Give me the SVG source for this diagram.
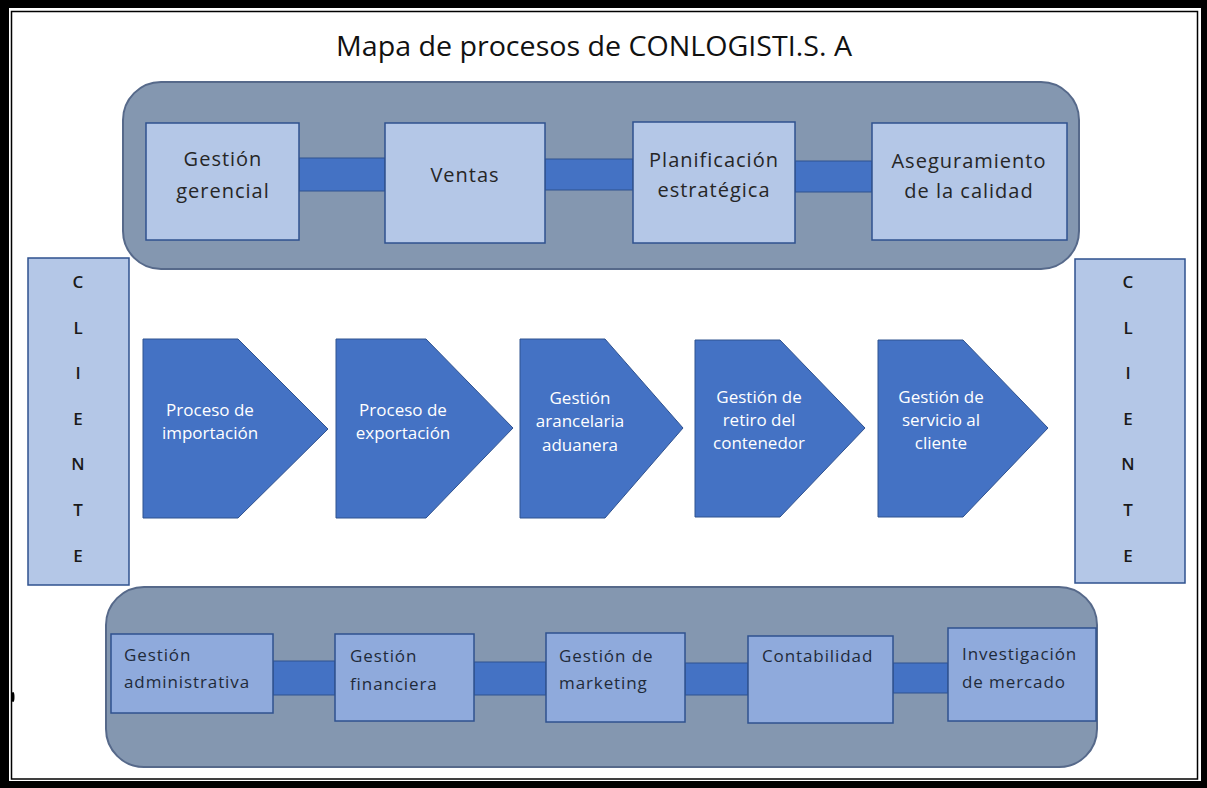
<svg xmlns="http://www.w3.org/2000/svg" width="1207" height="788" viewBox="0 0 1207 788">
<style>
.cont{fill:#8497B0;stroke:#56698A;stroke-width:2}
.tbox{fill:#B4C7E7;stroke:#2F528F;stroke-width:1.5}
.bbox{fill:#8FAADC;stroke:#2F528F;stroke-width:1.5}
.bar{fill:#4472C4;stroke:#2F528F;stroke-width:1}
.chev{fill:#4472C4;stroke:#2F528F;stroke-width:1}
.cli{fill:#B4C7E7;stroke:#2F528F;stroke-width:1.5}
.tt{font-family:"Open Sans","Liberation Sans",sans-serif;font-size:20px;letter-spacing:1px;fill:#262626;text-anchor:middle}
.bt{font-family:"Open Sans","Liberation Sans",sans-serif;font-size:17px;letter-spacing:0.9px;fill:#1f2a3a}
.ct{font-family:"Open Sans","Liberation Sans",sans-serif;font-size:17px;fill:#ffffff;text-anchor:middle}
.cl{font-family:"Open Sans","Liberation Sans",sans-serif;font-size:17px;font-weight:600;fill:#1a1a1a;text-anchor:middle}
</style>
<rect x="0" y="0" width="1207" height="788" fill="#000"/>
<rect x="9" y="8" width="1192" height="773" fill="#fff"/>
<rect x="11.5" y="11.5" width="1186" height="767.5" fill="none" stroke="#000" stroke-width="1.5"/>
<ellipse cx="13" cy="697" rx="1.5" ry="5" fill="#000"/>
<text x="336" y="56" font-family="'Open Sans','Liberation Sans',sans-serif" font-size="27" fill="#111" textLength="516" lengthAdjust="spacingAndGlyphs">Mapa de procesos de CONLOGISTI.S. A</text>

<g id="top-container"><rect class="cont" x="123" y="82" width="956" height="187" rx="38"/></g>
<g id="bottom-container"><rect class="cont" x="106" y="587" width="991" height="180" rx="38"/></g>

<g id="connectors">
<rect class="bar" x="299" y="158" width="86" height="33"/>
<rect class="bar" x="545" y="159" width="88" height="31"/>
<rect class="bar" x="795" y="161" width="77" height="31"/>
<rect class="bar" x="273" y="661" width="62" height="34"/>
<rect class="bar" x="474" y="662" width="72" height="33"/>
<rect class="bar" x="685" y="663" width="63" height="32"/>
<rect class="bar" x="893" y="663" width="55" height="30"/>
</g>

<g id="gestion-gerencial"><rect class="tbox" x="146" y="123" width="153" height="117"/>
<text class="tt" x="223" y="166">Gestión</text><text class="tt" x="223" y="198">gerencial</text></g>
<g id="ventas"><rect class="tbox" x="385" y="123" width="160" height="120"/>
<text class="tt" x="465" y="182">Ventas</text></g>
<g id="planificacion"><rect class="tbox" x="633" y="122" width="162" height="121"/>
<text class="tt" x="714" y="167">Planificación</text><text class="tt" x="714" y="197">estratégica</text></g>
<g id="aseguramiento"><rect class="tbox" x="872" y="123" width="195" height="117"/>
<text class="tt" x="969" y="168">Aseguramiento</text><text class="tt" x="969" y="198">de la calidad</text></g>

<g id="cliente-izq"><rect class="cli" x="28" y="258" width="101" height="327"/>
<text class="cl" x="78" y="288">C</text><text class="cl" x="78" y="334">L</text><text class="cl" x="78" y="379">I</text><text class="cl" x="78" y="425">E</text><text class="cl" x="78" y="470">N</text><text class="cl" x="78" y="516">T</text><text class="cl" x="78" y="562">E</text></g>
<g id="cliente-der"><rect class="cli" x="1075" y="259" width="110" height="324"/>
<text class="cl" x="1128" y="288">C</text><text class="cl" x="1128" y="334">L</text><text class="cl" x="1128" y="379">I</text><text class="cl" x="1128" y="425">E</text><text class="cl" x="1128" y="470">N</text><text class="cl" x="1128" y="516">T</text><text class="cl" x="1128" y="562">E</text></g>

<g id="proceso-importacion"><polygon class="chev" points="143,339 238,339 328,429 238,518 143,518"/>
<text class="ct" x="210" y="416">Proceso de</text><text class="ct" x="210" y="439">importación</text></g>
<g id="proceso-exportacion"><polygon class="chev" points="336,339 426,339 513,428 426,518 336,518"/>
<text class="ct" x="403" y="416">Proceso de</text><text class="ct" x="403" y="439">exportación</text></g>
<g id="gestion-arancelaria"><polygon class="chev" points="520,339 605,339 683,428 605,518 520,518"/>
<text class="ct" x="580" y="404">Gestión</text><text class="ct" x="580" y="427">arancelaria</text><text class="ct" x="580" y="451">aduanera</text></g>
<g id="gestion-retiro"><polygon class="chev" points="695,340 780,340 865,428 780,517 695,517"/>
<text class="ct" x="759" y="403">Gestión de</text><text class="ct" x="759" y="426">retiro del</text><text class="ct" x="759" y="449">contenedor</text></g>
<g id="gestion-servicio"><polygon class="chev" points="878,340 963,340 1048,428 963,517 878,517"/>
<text class="ct" x="941" y="403">Gestión de</text><text class="ct" x="941" y="426">servicio al</text><text class="ct" x="941" y="449">cliente</text></g>

<g id="gestion-administrativa"><rect class="bbox" x="111" y="634" width="162" height="79"/>
<text class="bt" x="124" y="661">Gestión</text><text class="bt" x="124" y="688">administrativa</text></g>
<g id="gestion-financiera"><rect class="bbox" x="335" y="634" width="139" height="87"/>
<text class="bt" x="350" y="662">Gestión</text><text class="bt" x="350" y="690">financiera</text></g>
<g id="gestion-marketing"><rect class="bbox" x="546" y="633" width="139" height="89"/>
<text class="bt" x="559" y="662">Gestión de</text><text class="bt" x="559" y="689">marketing</text></g>
<g id="contabilidad"><rect class="bbox" x="748" y="636" width="145" height="87"/>
<text class="bt" x="762" y="662">Contabilidad</text></g>
<g id="investigacion"><rect class="bbox" x="948" y="628" width="148" height="93"/>
<text class="bt" x="962" y="660">Investigación</text><text class="bt" x="962" y="688">de mercado</text></g>
</svg>
